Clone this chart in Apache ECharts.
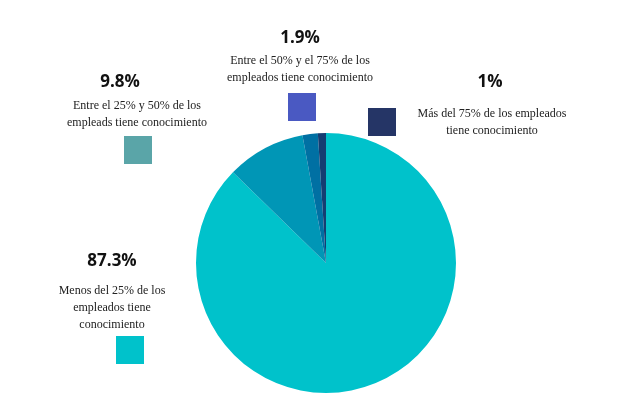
<!DOCTYPE html><html><head><meta charset="utf-8"><script src="https://cdn.jsdelivr.net/npm/echarts@6/dist/echarts.min.js"></script>
<style>html,body{margin:0;background:#fff}#c{width:642px;height:417px}</style></head><body><div id="c"></div><script>
const categories=['Menos del 25% de los\nempleados tiene\nconocimiento','Entre el 25% y 50% de los\nempleads tiene conocimiento','Entre el 50% y el 75% de los\nempleados tiene conocimiento','Más del 75% de los empleados\ntiene conocimiento'];
const values=[87.3,9.8,1.9,1];
const pctLabels=['87.3%','9.8%','1.9%','1%'];
const sliceColors=['#00C2CB','#0096B6','#0070A3','#153D72'];
const keyColors=['#00C2CB','#5AA5A8','#4A59C2','#253566'];
const ch=echarts.init(document.getElementById('c'));
const T=(x,y,t,o)=>Object.assign({type:'text',x,y,style:Object.assign({text:t,fill:'#222',font:'12px "Liberation Serif"',align:'center',lineHeight:17},o||{})});
const B=(x,y,t)=>T(x,y,t,{font:'bold 17px "Open Sans"',fill:'#111'});
const R=(x,y,c)=>({type:'rect',shape:{x,y,width:28,height:28},style:{fill:c}});
ch.setOption({animation:false,
series:[{type:'pie',center:[326,263],radius:[0,130],startAngle:90,clockwise:true,label:{show:false},labelLine:{show:false},
data:values.map((v,i)=>({value:v,name:categories[i],itemStyle:{color:sliceColors[i]}}))}],
graphic:[
B(112,253,pctLabels[0]),T(112,282,categories[0]),R(116,336,keyColors[0]),
B(120,74,pctLabels[1]),T(137,97,categories[1]),R(124,136,keyColors[1]),
B(300,30,pctLabels[2]),T(300,52,categories[2]),R(288,93,keyColors[2]),
B(490,74,pctLabels[3]),T(492,105,categories[3]),R(368,108,keyColors[3])
]});
</script></body></html>
